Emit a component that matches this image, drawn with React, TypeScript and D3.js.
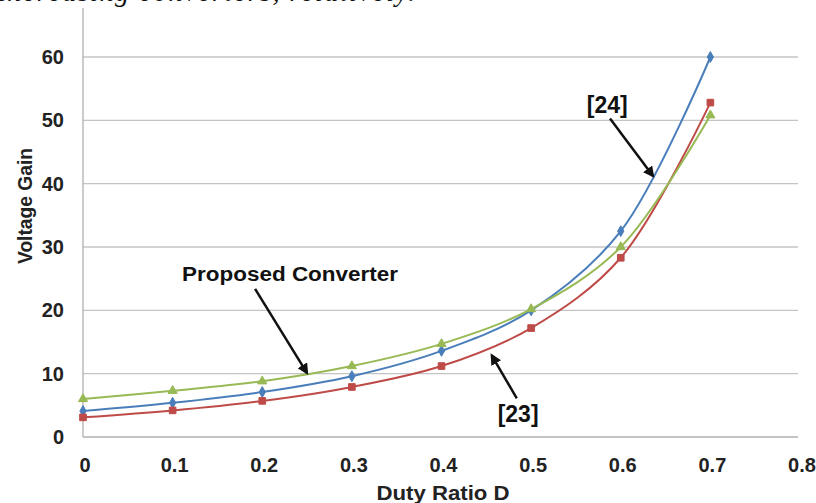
import React from "react";
import * as d3 from "d3";

const dutyRatio = [0, 0.1, 0.2, 0.3, 0.4, 0.5, 0.6, 0.7];
const ref24 = [4.1, 5.4, 7.1, 9.6, 13.6, 20.0, 32.5, 60.0];
const ref23 = [3.1, 4.2, 5.7, 7.9, 11.2, 17.2, 28.3, 52.8];
const proposed = [6.0, 7.3, 8.8, 11.2, 14.7, 20.2, 30.0, 50.8];

const xTicks = [0, 0.1, 0.2, 0.3, 0.4, 0.5, 0.6, 0.7, 0.8];
const yTicks = [0, 10, 20, 30, 40, 50, 60];

const xTitle = "Duty Ratio D";
const yTitle = "Voltage Gain";
const headerText = "increasing converters, relatively.";

// annotations in data space: label anchor and arrow from -> to
const annLabels = ["[24]", "Proposed Converter", "[23]"];
const annLabelX = [0.585, 0.231, 0.4855];
const annLabelY = [51.2, 24.6, 2.3];
const annFromX = [0.588, 0.192, 0.484];
const annFromY = [50.3, 23.4, 6.1];
const annToX = [0.636, 0.25, 0.456];
const annToY = [41.2, 10.1, 12.9];

const W = 816;
const H = 503;

export default function App() {
  const x = d3.scaleLinear().domain([0, 0.8]).range([83, 800]);
  const y = d3.scaleLinear().domain([0, 60]).range([437, 57]);
  const yTopPx = 8;

  const series = [
    { name: "[24]", values: ref24, color: "#4a7ebb", marker: "diamond" },
    { name: "[23]", values: ref23, color: "#be4b48", marker: "square" },
    { name: "Proposed", values: proposed, color: "#98b954", marker: "triangle" },
  ];

  const line = d3
    .line<[number, number]>()
    .x((d) => x(d[0]))
    .y((d) => y(d[1]))
    .curve(d3.curveCatmullRom.alpha(0.5));

  const font = "'Liberation Sans', Arial, sans-serif";

  const markerPath = (type: string) => {
    if (type === "diamond") return d3.symbol(d3.symbolDiamond, 34)();
    if (type === "square") return d3.symbol(d3.symbolSquare, 44)();
    return d3.symbol(d3.symbolTriangle, 36)();
  };

  return (
    <svg
      width={W}
      height={H}
      style={{ position: "absolute", left: 0, top: 0, background: "#fff" }}
    >
      <defs>
        <marker
          id="arrow"
          viewBox="0 0 10 10"
          refX="8"
          refY="5"
          markerWidth="4.5"
          markerHeight="4.5"
          orient="auto-start-reverse"
        >
          <path d="M0,0 L10,5 L0,10 z" fill="#111" />
        </marker>
      </defs>

      {/* paper text at the top, mostly cut off as in the reference */}
      <text
        x={-2}
        y={0.5}
        fontFamily="'Liberation Serif', 'Times New Roman', serif"
        fontStyle="italic"
        fontSize={28}
        textLength={417}
        lengthAdjust="spacing"
        fill="#111"
      >
        {headerText}
      </text>

      {/* gridlines */}
      {yTicks.slice(1).map((t) => (
        <line
          key={"g" + t}
          x1={x(0)}
          x2={798}
          y1={y(t)}
          y2={y(t)}
          stroke="#c4c4c4"
          strokeWidth={1.3}
        />
      ))}
      {/* axes */}
      <line x1={x(0)} x2={798} y1={y(0)} y2={y(0)} stroke="#b0b0b0" strokeWidth={1.3} />
      <line x1={x(0)} x2={x(0)} y1={y(0)} y2={yTopPx} stroke="#b0b0b0" strokeWidth={1.3} />

      {/* y tick labels */}
      {yTicks.map((t) => (
        <text
          key={"yt" + t}
          x={64}
          y={y(t) + 7}
          textAnchor="end"
          fontFamily={font}
          fontWeight="bold"
          fontSize={20}
          fill="#222"
        >
          {t}
        </text>
      ))}
      {/* x tick labels */}
      {xTicks.map((t) => (
        <text
          key={"xt" + t}
          x={x(t) + 2}
          y={472}
          textAnchor="middle"
          fontFamily={font}
          fontWeight="bold"
          fontSize={20}
          fill="#222"
        >
          {t === 0 ? "0" : d3.format(".1f")(t)}
        </text>
      ))}

      {/* axis titles */}
      <text
        x={443}
        y={500}
        textAnchor="middle"
        fontFamily={font}
        fontWeight="bold"
        fontSize={20}
        textLength={133}
        lengthAdjust="spacingAndGlyphs"
        fill="#222"
      >
        {xTitle}
      </text>
      <text
        transform={`translate(32,206) rotate(-90)`}
        textAnchor="middle"
        fontFamily={font}
        fontWeight="bold"
        fontSize={20}
        textLength={116}
        lengthAdjust="spacingAndGlyphs"
        fill="#222"
      >
        {yTitle}
      </text>

      {/* series */}
      {series.map((s) => {
        const pts: [number, number][] = dutyRatio.map((d, i) => [d, s.values[i]]);
        return (
          <g key={s.name}>
            <path d={line(pts) || ""} fill="none" stroke={s.color} strokeWidth={2} />
            {pts.map((p, i) => (
              <path
                key={i}
                d={markerPath(s.marker) || ""}
                transform={`translate(${x(p[0])},${y(p[1])})`}
                fill={s.color}
                stroke={s.color}
                strokeWidth={1}
              />
            ))}
          </g>
        );
      })}

      {/* annotations */}
      {annLabels.map((lab, i) => (
        <g key={"ann" + i}>
          <line
            x1={x(annFromX[i])}
            y1={y(annFromY[i])}
            x2={x(annToX[i])}
            y2={y(annToY[i])}
            stroke="#111"
            strokeWidth={2.5}
            markerEnd="url(#arrow)"
          />
          <text
            x={x(annLabelX[i])}
            y={y(annLabelY[i])}
            textAnchor="middle"
            fontFamily={font}
            fontWeight="bold"
            fontSize={i === 1 ? 20 : 23}
            textLength={i === 1 ? 216 : undefined}
            lengthAdjust="spacingAndGlyphs"
            fill="#111"
          >
            {lab}
          </text>
        </g>
      ))}
    </svg>
  );
}
